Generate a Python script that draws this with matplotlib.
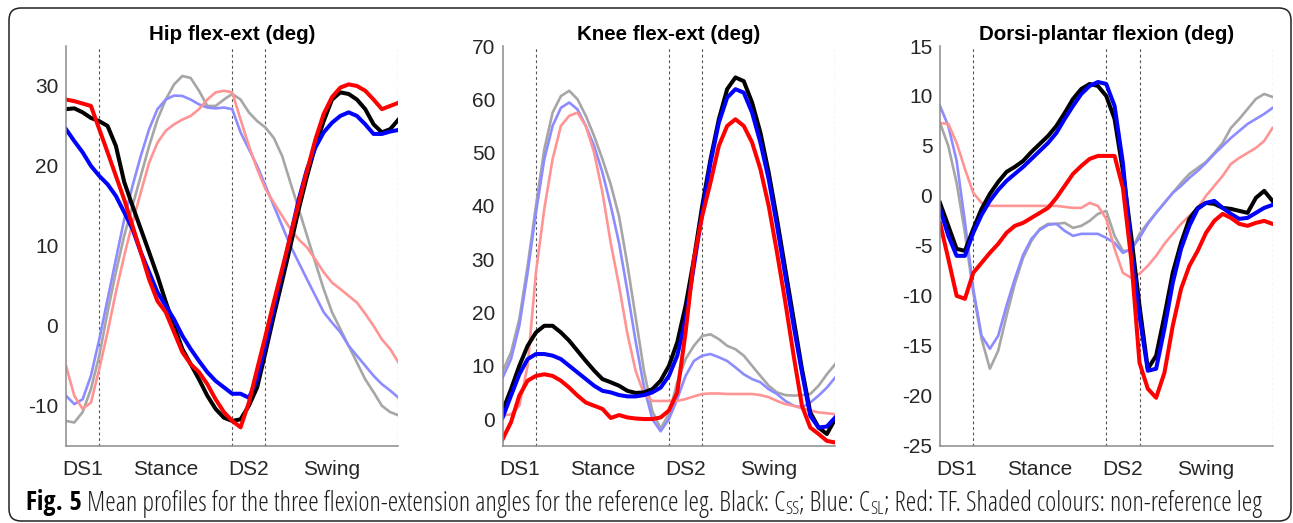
import numpy as np
import matplotlib
matplotlib.use("Agg")
import matplotlib.pyplot as plt
from matplotlib.patches import FancyBboxPatch
from matplotlib.font_manager import FontProperties

plt.rcParams['font.family'] = ['Liberation Sans', 'DejaVu Sans']
plt.rcParams['axes.unicode_minus'] = False

# % of gait cycle
gait_pct = np.arange(0, 100.1, 2.5)

phase_lines = [10, 50, 60, 100]
phase_ticks = [5, 30, 55, 80]
phase_labels = ['DS1', 'Stance', 'DS2', 'Swing']

# hip flexion-extension (deg)
hip_css = [27.1, 27.2, 26.7, 26.0, 25.6, 25.0, 22.5, 18.0, 15.0, 12.1, 9.2, 6.25, 3.0, 0.0, -2.9,
           -4.8, -6.7, -8.75, -10.4, -11.5, -11.9, -11.7, -10.0, -7.7, -3.3, 1.25, 5.6, 10.0, 14.6,
           18.75, 22.5, 25.6, 28.3, 29.2, 29.0, 28.3, 27.1, 25.2, 24.2, 24.6, 25.8]
hip_csl = [24.6, 23.1, 21.7, 20.0, 18.75, 17.7, 16.25, 14.2, 12.1, 9.2, 6.7, 4.2, 2.5, 0.8, -1.25,
           -2.9, -4.4, -5.8, -6.9, -7.7, -8.5, -8.5, -9.0, -6.7, -2.5, 2.1, 6.7, 11.25, 15.8, 19.6,
           22.3, 24.2, 25.4, 26.25, 26.7, 26.25, 25.2, 24.0, 24.0, 24.3, 24.5]
hip_tf = [28.3, 28.1, 27.8, 27.5, 24.6, 21.7, 18.75, 15.8, 12.5, 9.2, 5.8, 3.1, 1.7, -0.8, -3.3,
          -4.8, -5.8, -7.3, -9.2, -10.8, -11.9, -12.7, -9.6, -5.4, -1.25, 3.0, 7.1, 11.25, 15.4,
          19.4, 23.3, 26.5, 28.6, 29.8, 30.2, 30.0, 29.4, 28.3, 27.1, 27.5, 27.9]
hip_css_nr = [-11.9, -12.1, -10.8, -7.9, -3.75, 1.7, 6.7, 11.25, 15.0, 18.75, 22.5, 25.8, 28.3, 30.2,
              31.25, 31.0, 29.4, 27.5, 27.5, 28.3, 29.0, 28.3, 26.7, 25.6, 24.8, 23.5, 21.25, 17.9,
              14.6, 11.25, 7.9, 4.6, 1.7, -0.4, -2.5, -4.6, -6.7, -8.3, -10.0, -10.8, -11.2]
hip_csl_nr = [-8.75, -9.8, -9.2, -6.25, -1.7, 3.3, 8.3, 13.3, 17.5, 21.25, 24.6, 27.1, 28.3, 28.8,
              28.75, 28.3, 27.7, 27.3, 27.2, 27.3, 27.1, 24.2, 22.1, 20.0, 17.5, 15.0, 12.5, 10.0,
              7.9, 5.8, 3.75, 1.7, 0.4, -0.8, -2.5, -3.75, -5.0, -6.25, -7.3, -8.1, -9.0]
hip_tf_nr = [-5.0, -8.75, -10.4, -9.6, -5.4, -0.8, 4.2, 8.75, 12.9, 16.7, 20.4, 22.9, 24.4, 25.2,
             25.8, 26.25, 27.1, 28.3, 29.2, 29.4, 29.2, 25.8, 22.5, 19.6, 17.1, 15.4, 13.75, 12.1,
             10.8, 9.8, 8.3, 6.7, 5.4, 4.6, 3.75, 2.9, 1.5, 0.0, -1.7, -2.9, -4.6]

# knee flexion-extension (deg)
knee_css = [1.6, 5.6, 10, 13.75, 16.25, 17.5, 17.5, 16.25, 14.7, 12.8, 10.9, 9.1, 7.5, 6.9, 6.25,
            5.3, 4.9, 5.0, 5.6, 7.2, 10, 14.4, 21.25, 30, 40, 48.75, 56.25, 61.9, 64.1, 63.4, 59.4,
            53.75, 46.25, 37.5, 28.1, 18.75, 9.4, 1.25, -1.6, -2.8, 0]
knee_csl = [0.3, 4.4, 8.4, 11.25, 12.2, 12.2, 11.9, 11.25, 10, 8.75, 7.5, 6.25, 5.3, 5.0, 4.5, 4.25,
            4.25, 4.5, 5.0, 5.9, 8.1, 11.9, 18.75, 28.75, 38.75, 48.1, 55.6, 60.3, 61.9, 61.25, 57.5,
            51.9, 45, 36.25, 26.9, 17.5, 8.75, 0.6, -1.6, -1.4, 0.3]
knee_tf = [-3.75, -0.6, 4.4, 7.2, 8.1, 8.4, 8.1, 7.2, 5.9, 4.4, 3.1, 2.5, 1.9, 0.2, 0.75, 0.3, 0.1,
           0, 0, 0.3, 1.6, 5, 16.25, 30, 38.1, 44.4, 51.25, 55, 56.25, 55, 51.9, 46.9, 40, 31.25,
           21.9, 11.9, 2.5, -1.6, -2.8, -4.1, -4.4]
knee_css_nr = [9, 12.5, 18.75, 28.75, 40, 50.6, 57.5, 60.6, 61.6, 60, 56.9, 53.1, 48.75, 44, 38, 29,
               19, 9, 1.5, -1.8, 1.0, 6.9, 11.25, 13.75, 15.6, 15.9, 15, 13.75, 13.1, 11.9, 10, 8.1,
               6.25, 5, 4.5, 4.4, 4.5, 4.7, 6.25, 8.4, 10.3]
knee_csl_nr = [7.8, 11.25, 17.5, 27.5, 38.75, 48.75, 55, 58.4, 59.4, 58.1, 55, 51.25, 46.25, 40, 33,
               24, 14.5, 6, 0, -2.3, 0, 3.75, 8.1, 10.9, 11.9, 12.2, 11.6, 10.9, 9.7, 8.4, 7.5, 6.9,
               5.6, 4.7, 3.4, 2.5, 2.2, 3.1, 4.4, 5.9, 7.8]
knee_tf_nr = [0.6, 0.9, 2.5, 10, 27.5, 39.4, 48.75, 55, 56.9, 57.5, 55, 50, 42.5, 33, 25, 16, 9, 4.7,
              3.4, 3.4, 3.4, 3.4, 3.75, 4.25, 4.7, 4.8, 4.8, 4.7, 4.7, 4.7, 4.7, 4.5, 4.1, 3.4, 2.8,
              2.5, 2.0, 1.6, 1.25, 1.1, 0.9]

# dorsi-plantar flexion (deg)
ankle_css = [-0.7, -3, -5.3, -5.5, -3.3, -1.3, 0.2, 1.4, 2.4, 2.9, 3.5, 4.4, 5.2, 6.0, 7.0, 8.3, 9.7,
             10.7, 11.2, 11.0, 10.0, 7.7, 2.5, -4, -11, -17.3, -16, -12, -7.7, -4.7, -2.3, -1.2,
             -0.7, -0.8, -1.2, -1.3, -1.5, -1.7, -0.2, 0.5, -0.5]
ankle_csl = [-1.3, -4, -6, -6.0, -3.7, -1.9, -0.5, 0.6, 1.5, 2.2, 2.9, 3.7, 4.5, 5.3, 6.3, 7.7, 9.0,
             10.2, 11.0, 11.4, 11.2, 9, 3.3, -5.3, -12, -17.5, -17.3, -13.3, -8.7, -5.3, -3, -1.3,
             -0.7, -0.5, -1.2, -1.8, -2.3, -2.2, -1.7, -1.2, -0.9]
ankle_tf = [-2.7, -6.3, -10, -10.3, -7.7, -6.7, -5.7, -4.8, -3.7, -3.0, -2.7, -2.2, -1.7, -1.2, -0.2,
            1.0, 2.2, 3.0, 3.7, 4.0, 4.0, 4.0, 0.8, -6.3, -16.7, -19.3, -20.2, -17.7, -13, -9.3, -7,
            -5.5, -3.7, -2.5, -1.8, -2.2, -2.8, -3, -2.7, -2.5, -2.8]
ankle_css_nr = [7.3, 5.0, 1.3, -3.7, -9.7, -14.3, -17.3, -15.5, -12, -8.8, -6.2, -4.5, -3.3, -2.8,
                -2.8, -2.7, -3.2, -3, -2.5, -1.8, -1.5, -4, -5.5, -5.5, -3.8, -2.7, -1.7, -0.7, 0.3,
                1.3, 2.2, 2.8, 3.4, 4.3, 5.3, 6.8, 7.7, 8.7, 9.7, 10.2, 9.9]
ankle_csl_nr = [9, 7, 3.5, -2.6, -9.3, -14, -15.3, -14, -11, -8.3, -5.9, -4.3, -3.4, -2.9, -2.8,
                -3.5, -4, -3.8, -3.8, -3.8, -4.2, -4.7, -5.7, -5.3, -4.2, -2.8, -1.7, -0.7, 0.3, 1,
                1.8, 2.5, 3.3, 4.2, 5, 5.8, 6.5, 7.2, 7.7, 8.2, 8.8]
ankle_tf_nr = [7.3, 7.2, 5.3, 2.7, 0.3, -0.7, -1.0, -1.0, -1.0, -1.0, -1.0, -1.0, -1.0, -1.0, -1.0,
               -1.1, -1.2, -1.2, -0.7, -1.0, -2.3, -5.3, -7.7, -8.2, -7.8, -7, -6, -4.8, -3.8, -2.8,
               -2, -1.2, 0, 1, 2, 3.2, 3.8, 4.3, 4.8, 5.5, 6.8]

panels = [
    ('Hip flex-ext (deg)', (-15, 35), [-10, 0, 10, 20, 30],
     [hip_css_nr, hip_csl_nr, hip_tf_nr, hip_css, hip_csl, hip_tf]),
    ('Knee flex-ext (deg)', (-5, 70), list(range(0, 71, 10)),
     [knee_css_nr, knee_csl_nr, knee_tf_nr, knee_css, knee_csl, knee_tf]),
    ('Dorsi-plantar flexion (deg)', (-25, 15), list(range(-25, 16, 5)),
     [ankle_css_nr, ankle_csl_nr, ankle_tf_nr, ankle_css, ankle_csl, ankle_tf]),
]

colors = ['#a6a6a6', '#8c8cff', '#ff9494', 'black', '#0000ff', '#ff0000']
widths = [1.9, 1.9, 1.9, 2.9, 2.9, 2.9]

W, H = 1293, 523
fig = plt.figure(figsize=(W / 100, H / 100), dpi=100)

lefts = [66, 502.7, 940]
for left, (title, ylim, yticks, series) in zip(lefts, panels):
    ax = fig.add_axes([left / W, (H - 445.7) / H, 332.5 / W, 399.7 / H])
    for xl in phase_lines:
        ax.axvline(xl, color='#555555', lw=0.8, ls=(0, (2.5, 2.5)), zorder=1)
    for vals, c, lw in zip(series, colors, widths):
        ax.plot(gait_pct, vals, color=c, lw=lw, zorder=2)
    ax.set_xlim(0, 100)
    ax.set_ylim(*ylim)
    ax.set_yticks(yticks)
    ax.set_xticks(phase_ticks)
    ax.set_xticklabels(phase_labels)
    ax.tick_params(axis='both', length=0, labelsize=15, colors='#262626')
    ax.tick_params(axis='y', pad=5.5)
    ax.tick_params(axis='x', pad=10)
    for s in ['top', 'right']:
        ax.spines[s].set_visible(False)
    for s in ['left', 'bottom']:
        ax.spines[s].set_color('#8a8a8a')
        ax.spines[s].set_linewidth(1.1)
    ax.set_title(title, fontsize=14.8, fontweight='bold', pad=4.5)

# caption: bold label, light condensed body, subscripts as small lowered text
body_font = FontProperties(family='Open Sans', stretch='condensed', weight='light')
bold_font = FontProperties(family='Open Sans Condensed', weight='bold')
pieces = [
    ('Fig. 5', bold_font, 0, 1.0, 'black'),
    (' Mean profiles for the three flexion-extension angles for the reference leg. Black: C',
     body_font, 0, 1.0, '#231f20'),
    ('SS', body_font, 4, 0.68, '#231f20'),
    ('; Blue: C', body_font, 0, 1.0, '#231f20'),
    ('SL', body_font, 4, 0.68, '#231f20'),
    ('; Red: TF. Shaded colours: non-reference leg', body_font, 0, 1.0, '#231f20'),
]
renderer = fig.canvas.get_renderer()


def draw_caption(size):
    x = 26
    drawn = []
    for txt, fp, dy, scale, col in pieces:
        t = fig.text(x / W, (H - 510.5 - dy) / H, txt, fontproperties=fp, color=col,
                     va='baseline', ha='left')
        t.set_fontsize(size * scale)
        x = t.get_window_extent(renderer).x1
        drawn.append(t)
    return drawn, x


cap_size = 14.8
texts, x_end = draw_caption(cap_size)
target = 1265
if abs(x_end - target) > 8:
    for t in texts:
        t.remove()
    texts, x_end = draw_caption(cap_size * (target - 26) / (x_end - 26))

frame = FancyBboxPatch((0.09, 0.02), 12.82, 5.13, boxstyle='round,pad=0,rounding_size=0.12',
                       transform=fig.dpi_scale_trans, fill=False, ec='#222222', lw=1.1)
fig.add_artist(frame)

fig.savefig('out.png', dpi=100)
